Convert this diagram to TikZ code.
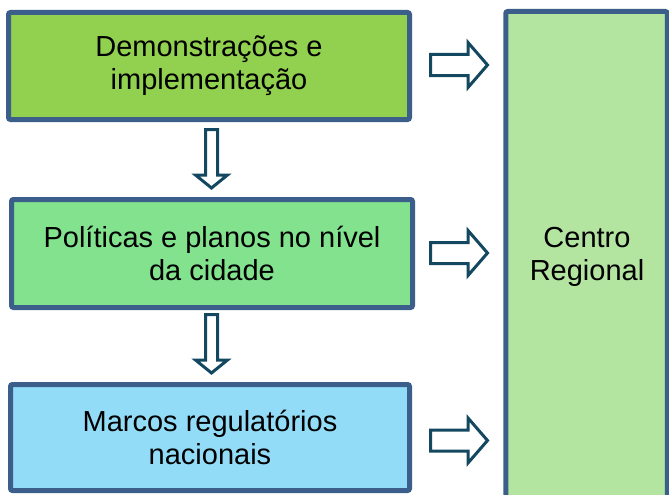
\documentclass[tikz,border=0pt]{standalone}
\usepackage{fontspec}
\setmainfont{Liberation Sans}
\usepackage{xcolor}
\usepackage{tikz}
\usetikzlibrary{calc}
\usetikzlibrary{positioning}

\definecolor{boxline}{RGB}{59,95,138}
\definecolor{arrowline}{RGB}{20,72,96}
\definecolor{demofill}{RGB}{146,208,80}
\definecolor{polfill}{RGB}{130,226,142}
\definecolor{marcofill}{RGB}{147,220,248}
\definecolor{centrofill}{RGB}{179,228,160}

\newcommand{\rightblock}[1]{%
  \draw[blockarrow] ($(#1)+(0,-10.5)$) -- ++(37.5,0) -- ++(0,-12) -- ++(19.5,22.5)
    -- ++(-19.5,22.5) -- ++(0,-12) -- ++(-37.5,0) -- cycle;}
\newcommand{\downblock}[1]{%
  \draw[blockarrow] ($(#1)+(-6,0)$) -- ++(0,45.5) -- ++(-10,0) -- ++(16,13)
    -- ++(16,-13) -- ++(-10,0) -- ++(0,-45.5) -- cycle;}

\begin{document}
\begin{tikzpicture}[x=1pt,y=-1pt,
                    box/.style={draw=boxline, line width=5pt, rounded corners=2pt,
                                align=center, font=\fontsize{29}{33}\selectfont,
                                inner sep=0pt},
                    blockarrow/.style={draw=arrowline, line width=3pt, fill=white}]
  \useasboundingbox (0,0) rectangle (669,495);
  % caixas da esquerda
  \node[box, fill=demofill, minimum width=401pt, minimum height=107pt]  (demo)  at (209,66)    {Demonstrações e\\implementação};
  \node[box, fill=polfill, minimum width=401pt, minimum height=108pt]   (pol)   at (212,253.5) {Políticas e planos no nível\\da cidade};
  \node[box, fill=marcofill, minimum width=399pt, minimum height=106pt] (marco) at (210,437.5) {Marcos regulatórios\\nacionais};
  % caixa da direita
  \node[box, fill=centrofill, minimum width=161.5pt, minimum height=510pt] (centro) at (586.5,266.5) {};
  \node[font=\fontsize{29}{33}\selectfont, align=center] (centrotxt) at (587,256.5) {Centro\\Regional};
  % setas
  \coordinate (d1) at (211.5,129.5);
  \coordinate (d2) at (211.5,314.5);
  \downblock{d1}
  \downblock{d2}
  \coordinate (r1) at (430.5,65);
  \coordinate (r2) at (430.5,253);
  \coordinate (r3) at (430.5,440.5);
  \rightblock{r1}
  \rightblock{r2}
  \rightblock{r3}
\end{tikzpicture}
\end{document}
